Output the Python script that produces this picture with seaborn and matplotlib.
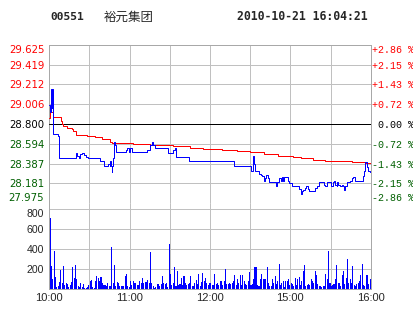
import numpy as np
import pandas as pd
import matplotlib
matplotlib.use("Agg")
import matplotlib.pyplot as plt
import seaborn as sns

# ---------------- data ----------------
stock_code = "00551"
stock_name = "裕元集团"
stamp = "2010-10-21 16:04:21"
prev_close = 28.800

price_ticks = [27.975, 28.181, 28.387, 28.594, 28.800, 29.006, 29.212, 29.419, 29.625]
pct_labels = ["-2.86 %", "-2.15 %", "-1.43 %", "-0.72 %", " 0.00 %",
              "+0.72 %", "+1.43 %", "+2.15 %", "+2.86 %"]
time_labels = ["10:00", "11:00", "12:00", "15:00", "16:00"]
vol_ticks = [200, 400, 600, 800]

# trade minutes (0 = 10:00, 240 = 16:00) and price at each change
price_t = [0, 0.7, 1.3, 1.8, 2.3, 2.8, 6.5, 7.6, 20.0, 21.0, 22.0, 23.0, 24.5, 26.0,
           27.5, 29.0, 37.5, 38.5, 41.0, 44.0, 45.0, 45.6, 46.2, 46.6, 47.1, 47.5,
           48.0, 48.5, 49.2, 50.0, 57.5, 58.3, 59.3, 60.3, 61.5, 72.7, 75.2, 76.5,
           77.7, 79.0, 88.5, 92.4, 93.5, 94.4, 104.1, 138.0, 150.5, 152.0, 152.8,
           153.5, 156.6, 157.9, 159.1, 160.3, 161.3, 162.1, 163.3, 164.1, 169.3,
           170.3, 171.8, 172.8, 173.6, 174.8, 175.3, 178.5, 179.2, 181.3, 186.7,
           187.7, 188.7, 189.7, 191.0, 191.7, 193.4, 194.2, 198.4, 199.7, 201.6,
           205.4, 206.1, 207.2, 210.4, 211.6, 212.6, 213.4, 214.6, 215.1, 215.8,
           217.1, 218.4, 219.1, 220.1, 220.8, 222.1, 224.6, 225.8, 227.0, 228.3,
           233.3, 234.5, 235.3, 236.0, 237.0, 238.2, 239.5, 240.0]
price_v = [29.00, 28.92, 29.16, 28.97, 29.16, 28.70, 28.67, 28.45, 28.50, 28.47, 28.45,
           28.49, 28.50, 28.48, 28.46, 28.45, 28.42, 28.41, 28.36, 28.38, 28.36, 28.41,
           28.36, 28.30, 28.36, 28.45, 28.55, 28.61, 28.58, 28.51, 28.53, 28.55, 28.51,
           28.55, 28.51, 28.53, 28.58, 28.61, 28.58, 28.55, 28.50, 28.53, 28.55, 28.46,
           28.41, 28.36, 28.31, 28.47, 28.38, 28.31, 28.28, 28.27, 28.26, 28.21, 28.24,
           28.27, 28.24, 28.20, 28.15, 28.20, 28.24, 28.21, 28.25, 28.21, 28.25, 28.21,
           28.19, 28.15, 28.12, 28.07, 28.10, 28.11, 28.13, 28.15, 28.12, 28.10, 28.13,
           28.15, 28.20, 28.17, 28.15, 28.20, 28.16, 28.20, 28.21, 28.17, 28.15, 28.20,
           28.17, 28.15, 28.17, 28.15, 28.11, 28.16, 28.20, 28.21, 28.24, 28.25, 28.21,
           28.21, 28.26, 28.31, 28.40, 28.35, 28.31, 28.30, 28.30]

# average price line
avg_t = [0, 0.6, 1.5, 2.5, 8.5, 9.2, 10.5, 13.0, 16.7, 17.9, 19.9, 27.9, 34.1, 39.1,
         45.3, 46.6, 62.7, 75.2, 92.6, 105.0, 115.0, 128.7, 140.0, 150.0, 160.0,
         171.0, 182.0, 188.0, 197.0, 206.0, 213.0, 226.0, 236.0, 240.0]
avg_v = [28.86, 28.95, 28.92, 28.87, 28.83, 28.80, 28.78, 28.76, 28.75, 28.73, 28.69,
         28.675, 28.66, 28.64, 28.61, 28.60, 28.59, 28.58, 28.57, 28.55, 28.54, 28.53,
         28.52, 28.51, 28.49, 28.47, 28.46, 28.45, 28.43, 28.42, 28.41, 28.40, 28.39,
         28.39]

# per-minute volume
volume = [713, 230, 100, 380, 120, 15, 30, 67, 190, 57,
          230, 40, 53, 50, 15, 33, 67, 220, 107, 240,
          100, 25, 20, 57, 20, 47, 10, 10, 20, 40,
          80, 87, 15, 10, 80, 130, 107, 73, 120, 53,
          33, 40, 23, 57, 30, 27, 420, 60, 240, 23,
          67, 53, 27, 27, 30, 30, 130, 150, 27, 20,
          80, 40, 80, 53, 53, 40, 33, 73, 53, 110,
          60, 67, 67, 87, 53, 367, 60, 30, 10, 20,
          47, 47, 27, 47, 130, 53, 43, 53, 20, 447,
          150, 40, 60, 220, 30, 180, 40, 47, 107, 40,
          130, 53, 40, 47, 60, 130, 30, 30, 53, 87,
          47, 150, 30, 67, 157, 73, 107, 60, 40, 53,
          53, 40, 40, 150, 50, 60, 40, 80, 80, 40,
          73, 193, 47, 47, 60, 47, 60, 80, 133, 33,
          100, 60, 133, 33, 133, 80, 47, 40, 80, 167,
          33, 47, 100, 213, 213, 33, 23, 100, 143, 100,
          100, 93, 213, 60, 23, 23, 100, 60, 123, 47,
          80, 250, 33, 60, 73, 13, 73, 80, 93, 33,
          53, 47, 23, 107, 33, 100, 113, 33, 80, 175,
          240, 23, 33, 47, 33, 100, 80, 60, 180, 140,
          47, 23, 23, 17, 23, 30, 143, 93, 383, 60,
          23, 33, 47, 100, 240, 60, 60, 23, 140, 173,
          47, 107, 293, 60, 93, 60, 223, 33, 23, 47,
          60, 80, 140, 247, 33, 23, 140, 140, 47, 100]
vol_minute = np.arange(len(volume)) + 0.6

# ---------------- style ----------------
sns.set_style("white")
plt.rcParams["font.family"] = ["DejaVu Sans"]

RED = "#ff0000"
GREEN = "#005f00"
BLUE = "#0000ff"
GRID = "#c0c0c0"
SPINE = "#a8a8a8"
LW = 0.72

W, H = 414, 314
fig = plt.figure(figsize=(W / 100, H / 100), dpi=100)
fig.patch.set_facecolor("white")


def rect(l, t, r, b):
    return [l / W, 1 - b / H, (r - l) / W, (b - t) / H]


L, R = 49.3, 370.7
axp = fig.add_axes(rect(L, 44.7, R, 203.3))
axv = fig.add_axes(rect(L, 203.3, R, 288.5))

# ---------------- price panel ----------------
pdf = pd.DataFrame({"t": price_t, "p": price_v})
adf = pd.DataFrame({"t": avg_t, "p": avg_v})
sns.lineplot(data=adf, x="t", y="p", ax=axp, color=RED, lw=LW,
             drawstyle="steps-post", estimator=None, sort=False, zorder=4)
sns.lineplot(data=pdf, x="t", y="p", ax=axp, color=BLUE, lw=LW,
             drawstyle="steps-post", estimator=None, sort=False, zorder=5)
axp.set_xlim(0, 240)
axp.set_ylim(price_ticks[0], price_ticks[-1])
axp.set_xticks(np.arange(0, 241, 30))
axp.set_xticklabels([])
axp.set_yticks(price_ticks)
axp.set_yticklabels([f"{v:.3f}" for v in price_ticks])
axp.grid(True, color=GRID, lw=LW)
axp.set_axisbelow(True)
axp.axhline(prev_close, color="black", lw=LW, zorder=3)
axp.set_xlabel("")
axp.set_ylabel("")
axp.tick_params(axis="both", length=0)
axp.tick_params(axis="y", pad=3.6, labelsize=7.3)
for v, lab in zip(price_ticks, axp.get_yticklabels()):
    lab.set_color(RED if v > prev_close + 1e-9 else (GREEN if v < prev_close - 1e-9 else "black"))
labs = axp.get_yticklabels()
labs[0].set_va("bottom")
labs[-1].set_va("top")
for s in ["top", "left", "right"]:
    axp.spines[s].set_color(SPINE)
    axp.spines[s].set_linewidth(LW)
axp.spines["bottom"].set_color("black")
axp.spines["bottom"].set_linewidth(LW)
axp.spines["bottom"].set_zorder(6)

axr = axp.twinx()
axr.set_ylim(axp.get_ylim())
axr.set_yticks(price_ticks)
axr.set_yticklabels(pct_labels, family="Liberation Mono", fontsize=7.2)
axr.tick_params(axis="y", length=0, pad=0.8)
for v, lab in zip(price_ticks, axr.get_yticklabels()):
    lab.set_color(RED if v > prev_close + 1e-9 else (GREEN if v < prev_close - 1e-9 else "black"))
rl = axr.get_yticklabels()
rl[0].set_va("bottom")
rl[-1].set_va("top")
for s in axr.spines.values():
    s.set_visible(False)

# ---------------- volume panel ----------------
vdf = pd.DataFrame({"m": vol_minute, "v": volume})
sns.barplot(data=vdf, x="m", y="v", ax=axv, native_scale=True, color=BLUE,
            saturation=1, width=0.78, linewidth=0, errorbar=None,
            antialiased=False, zorder=3)
axv.set_xlim(0, 240)
axv.set_ylim(0, 800 * (288.5 - 203.3) / (288.5 - 209.3))
axv.set_xticks(np.arange(0, 241, 30))
xt = []
k = 0
for x in np.arange(0, 241, 30):
    if x % 60 == 0:
        xt.append(time_labels[k])
        k += 1
    else:
        xt.append("")
axv.set_xticklabels(xt, family="Liberation Sans", fontsize=8)
axv.set_yticks(vol_ticks)
axv.set_yticklabels([str(v) for v in vol_ticks], family="Liberation Sans", fontsize=7.6)
axv.grid(True, color=GRID, lw=LW)
axv.set_axisbelow(True)
axv.set_xlabel("")
axv.set_ylabel("")
axv.tick_params(axis="both", length=0)
axv.tick_params(axis="y", pad=3.8)
axv.tick_params(axis="x", pad=3.4)
axv.get_yticklabels()[-1].set_va("top")
axv.spines["top"].set_visible(False)
for s in ["left", "right", "bottom"]:
    axv.spines[s].set_color(SPINE)
    axv.spines[s].set_linewidth(LW)

# ---------------- header ----------------
fig.text(50 / W, 1 - 20.3 / H, stock_code, family="DejaVu Sans Mono",
         fontweight="bold", fontsize=8.1, va="baseline", ha="left")
fig.text(104 / W, 1 - 20.5 / H, stock_name, family=["Noto Sans CJK SC", "DejaVu Sans"],
         fontsize=9.0, va="baseline", ha="left")
fig.text(237.5 / W, 1 - 20.3 / H, stamp, family="DejaVu Sans Mono",
         fontweight="bold", fontsize=8.3, va="baseline", ha="left")

fig.savefig("out.png", dpi=100, facecolor="white")
